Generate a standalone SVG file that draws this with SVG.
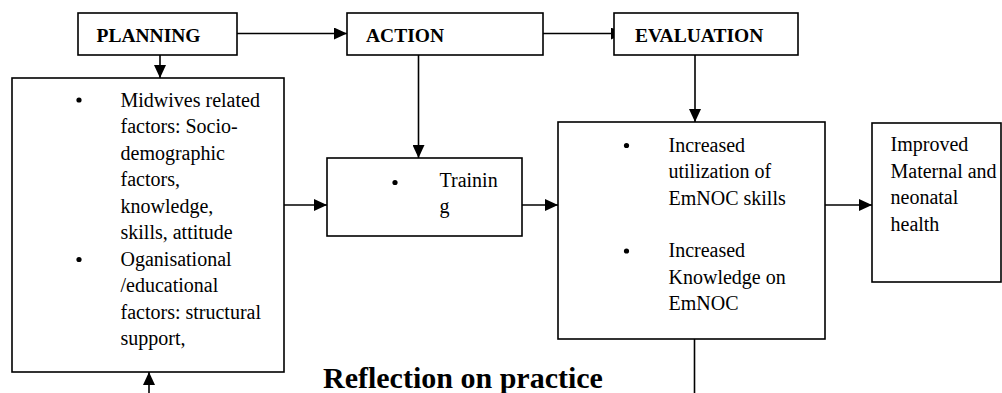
<svg xmlns="http://www.w3.org/2000/svg" width="1002" height="393" viewBox="0 0 1002 393">
<style>
.box{fill:#fff;stroke:#000;stroke-width:1.6}
.hd{font-family:'Liberation Serif','DejaVu Serif',serif;font-weight:bold;font-size:19.5px;fill:#000}
.tx{font-family:'Liberation Serif','DejaVu Serif',serif;font-size:20px;fill:#000}
.big{font-family:'Liberation Serif','DejaVu Serif',serif;font-weight:bold;font-size:30px;fill:#000}
.ln{fill:none;stroke:#000;stroke-width:1.6}
.bul{fill:#000}
</style>
<defs>
<marker id="ah" markerUnits="userSpaceOnUse" markerWidth="14" markerHeight="12" refX="13" refY="6" orient="auto">
<path d="M0,0 L13,6 L0,12 z" fill="#000"/>
</marker>
</defs>
<g id="connectors">
<path class="ln" d="M237,33.5 H347" marker-end="url(#ah)"/>
<path class="ln" d="M543,33.5 H624" marker-end="url(#ah)"/>
<path class="ln" d="M160,55 V78" marker-end="url(#ah)"/>
<path class="ln" d="M418.5,55 V158" marker-end="url(#ah)"/>
<path class="ln" d="M695,55 V122" marker-end="url(#ah)"/>
<path class="ln" d="M284,205 H327" marker-end="url(#ah)"/>
<path class="ln" d="M522,205 H558" marker-end="url(#ah)"/>
<path class="ln" d="M825,205 H872" marker-end="url(#ah)"/>
<path class="ln" d="M694.5,339 V393"/>
<path class="ln" d="M149,393 V372" marker-end="url(#ah)"/>
</g>
<g id="planning">
<rect class="box" x="78" y="13" width="159" height="42"/>
<text class="hd" font-family="Liberation Serif, serif" x="96.5" y="41.5">PLANNING</text>
</g>
<g id="action">
<rect class="box" x="347" y="13" width="196" height="42"/>
<text class="hd" x="366" y="41.5">ACTION</text>
</g>
<g id="evaluation">
<rect class="box" x="614" y="13" width="184" height="42"/>
<text class="hd" x="635" y="41.5">EVALUATION</text>
</g>
<g id="factors">
<rect class="box" x="12" y="78" width="272" height="294"/>
<circle class="bul" cx="79" cy="100" r="2.6"/>
<circle class="bul" cx="79" cy="259.5" r="2.6"/>
<text class="tx">
<tspan x="120.5" y="106.5">Midwives related</tspan>
<tspan x="120.5" y="133">factors: Socio-</tspan>
<tspan x="120.5" y="159.5">demographic</tspan>
<tspan x="120.5" y="186">factors,</tspan>
<tspan x="120.5" y="212.5">knowledge,</tspan>
<tspan x="120.5" y="239">skills, attitude</tspan>
<tspan x="120.5" y="265.5">Oganisational</tspan>
<tspan x="120.5" y="292">/educational</tspan>
<tspan x="120.5" y="318.5">factors: structural</tspan>
<tspan x="120.5" y="345">support,</tspan>
</text>
</g>
<g id="training">
<rect class="box" x="327" y="158" width="195" height="78"/>
<circle class="bul" cx="395" cy="182.5" r="2.6"/>
<text class="tx">
<tspan x="439.5" y="186.5">Trainin</tspan>
<tspan x="439.5" y="213">g</tspan>
</text>
</g>
<g id="outcomes">
<rect class="box" x="558" y="122" width="267" height="217"/>
<circle class="bul" cx="626.5" cy="145.5" r="2.6"/>
<circle class="bul" cx="626.5" cy="251" r="2.6"/>
<text class="tx">
<tspan x="668.5" y="151.5">Increased</tspan>
<tspan x="668.5" y="178">utilization of</tspan>
<tspan x="668.5" y="204.5">EmNOC skills</tspan>
<tspan x="668.5" y="257">Increased</tspan>
<tspan x="668.5" y="283.5">Knowledge on</tspan>
<tspan x="668.5" y="310">EmNOC</tspan>
</text>
</g>
<g id="improved">
<rect class="box" x="872" y="123" width="129" height="159"/>
<text class="tx">
<tspan x="890.5" y="151">Improved</tspan>
<tspan x="890.5" y="177.5">Maternal and</tspan>
<tspan x="890.5" y="204">neonatal</tspan>
<tspan x="890.5" y="230.5">health</tspan>
</text>
</g>
<g id="reflection">
<text class="big" x="323" y="388">Reflection on practice</text>
</g>
</svg>
